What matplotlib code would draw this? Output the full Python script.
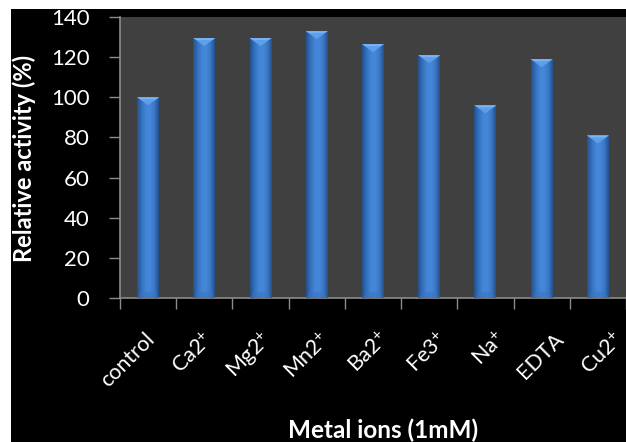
import numpy as np
import matplotlib
matplotlib.use("Agg")
import matplotlib.pyplot as plt
from matplotlib.patches import Rectangle, Polygon
from matplotlib.colors import LinearSegmentedColormap

plt.rcParams['font.family'] = ['Lato', 'DejaVu Sans']
plt.rcParams['mathtext.default'] = 'regular'

# Relative activity of the enzyme in presence of each metal ion (1 mM)
categories = ['control', 'Ca2$^{+}$', 'Mg2$^{+}$', 'Mn2$^{+}$', 'Ba2$^{+}$',
              'Fe3$^{+}$', 'Na$^{+}$', 'EDTA', 'Cu2$^{+}$']
activity = [100, 129.5, 129.5, 133, 126.5, 121, 96, 119, 81]
y_ticks = [0, 20, 40, 60, 80, 100, 120, 140]

W, H = 626, 442
fig = plt.figure(figsize=(W / 100, H / 100), dpi=100, facecolor='white')

# black chart area with a thin white margin on the top and left
fig.patches.append(Rectangle((11 / W, 0), 1, 1 - 9 / H, transform=fig.transFigure,
                             facecolor='black', edgecolor='none', zorder=-5))

cat_w = 58.5
left, top, bottom = 120, 17, 298
ax = fig.add_axes([left / W, 1 - bottom / H, (W - left) / W, (bottom - top) / H])
ax.set_zorder(2)
ax.set_facecolor('#404040')

x = np.arange(len(categories))
bar_w = 0.39
bars = ax.bar(x, activity, width=bar_w, color='#3d7cc9', zorder=2)

# horizontal shading across each bar
shade = LinearSegmentedColormap.from_list(
    'shade', ['#24508c', '#3470bb', '#4385d6', '#4587da', '#3a78c6', '#24508c'])
grad = np.linspace(0, 1, 64).reshape(1, -1)
for b in bars:
    bx, bw, bh = b.get_x(), b.get_width(), b.get_height()
    im = ax.imshow(grad, cmap=shade, aspect='auto',
                   extent=(bx, bx + bw, 0, bh), zorder=3, interpolation='bicubic')
    im.set_clip_path(b)
    # bevelled chevron at the top of the bar
    ax.add_patch(Polygon([(bx, bh), (bx + bw, bh), (bx + bw * 0.5, bh - 4.0)],
                         closed=True, facecolor='#5e9fea', edgecolor='none', zorder=4))
    ax.add_patch(Polygon([(bx, bh), (bx + bw, bh), (bx + bw * 0.85, bh - 1.0),
                          (bx + bw * 0.15, bh - 1.0)],
                         closed=True, facecolor='#78b4f4', edgecolor='none', zorder=4))
    # faint bevel at the base
    ax.add_patch(Polygon([(bx, 0), (bx + bw, 0), (bx + bw * 0.8, 3.0),
                          (bx + bw * 0.2, 3.0)],
                         closed=True, facecolor='#3a74bd', alpha=0.5,
                         edgecolor='none', zorder=4))

ax.set_xlim(-0.5, -0.5 + (W - left) / cat_w)
ax.set_ylim(0, 140)
ax.set_yticks(y_ticks)
ax.set_yticklabels([str(v) for v in y_ticks])
ax.set_xticks(np.arange(len(categories) + 1) - 0.5, minor=False)
ax.set_xticklabels([''] * (len(categories) + 1))
ax.tick_params(axis='both', colors='#8c8c8c', width=1, length=8, direction='out')
ax.tick_params(axis='y', labelcolor='white', labelsize=16, pad=14)

for s in ['top', 'right']:
    ax.spines[s].set_visible(False)
for s in ['left', 'bottom']:
    ax.spines[s].set_color('#8c8c8c')
    ax.spines[s].set_linewidth(1.2)

# rotated category labels, anchored at their right end below each bar
for i, lab in enumerate(categories):
    px = left + (i + 0.5) * cat_w + 2
    py = 336
    fig.text(px / W, 1 - py / H, lab, rotation=45, rotation_mode='anchor',
             ha='right', va='center', color='white', fontsize=15.5, zorder=3)

fig.text(24 / W, 1 - 158 / H, 'Relative activity (%)', rotation=90,
         ha='center', va='center', color='white', fontsize=17, fontweight='bold',
         zorder=3)
fig.text(383 / W, 1 - 430 / H, 'Metal ions (1mM)', ha='center', va='center',
         color='white', fontsize=17.5, fontweight='bold', zorder=3)

fig.savefig('out.png', dpi=100, facecolor='white')
